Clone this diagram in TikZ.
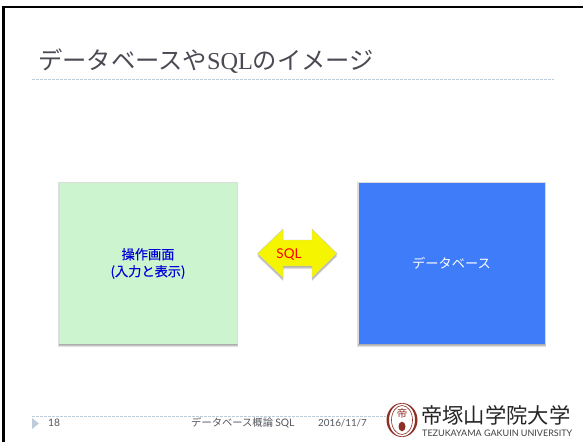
\documentclass[tikz,border=0pt]{standalone}
\usepackage{fontspec}
\setmainfont{Lato}
\newfontfamily\jpfont{Noto Sans CJK JP}
\newfontfamily\jpsemi[FakeBold=0.35]{Noto Sans CJK JP}
\newfontfamily\serifsql{Liberation Serif}
\newfontfamily\latinfoot{Lato}
\definecolor{titlegrey}{HTML}{4A4A54}
\definecolor{rulegrey}{HTML}{BCCCDA}
\definecolor{footgrey}{HTML}{55555F}
\definecolor{boxgreen}{HTML}{CCF4CF}
\definecolor{boxblue}{HTML}{3F7CFA}
\definecolor{arrowyellow}{HTML}{F5F500}
\definecolor{logored}{HTML}{8E3026}
\tikzset{
  x=1pt,y=-1pt,
  panelbox/.style={draw=none,minimum width=#1,minimum height=161pt,inner sep=0pt,anchor=north west},
  softshade/.style={fill=black,opacity=0.12,draw=none},
  haloshade/.style={fill=black,opacity=0.07,draw=none},
  dashrule/.style={draw=rulegrey,line width=0.8pt,dash pattern=on 2.5pt off 1.5pt},
  boxtext/.style={font=\jpfont\fontsize{13.2pt}{16.5pt}\selectfont,align=center,inner sep=0pt},
  foottext/.style={font=\jpfont\fontsize{10.3pt}{12pt}\selectfont,text=footgrey,inner sep=0pt,anchor=base west},
}
\begin{document}
\begin{tikzpicture}
\useasboundingbox (0,0) rectangle (583,442);
\fill[white] (0,0) rectangle (583,442);
% slide frame
\draw[black,line width=2.2pt] (3.5,442) -- (3.5,7) -- (583,7);
% title
\node[anchor=base west,inner sep=0pt,text=titlegrey] (title) at (38,69.5)
  {\fontsize{24.3pt}{28pt}\selectfont\jpfont データベースや\serifsql SQL\jpfont のイメージ};
\coordinate (ruleL) at (32,79.5);
\coordinate (ruleR) at (554,79.5);
\draw[dashrule] (ruleL) -- (ruleR);
% shadows
\foreach \d in {0.6,1.4}{
  \fill[haloshade] (59-\d,183-\d) rectangle (237+\d,344);
  \fill[haloshade] (358-\d,183-\d) rectangle (545+\d,344);
}
\foreach \d in {1,2,3}{
  \fill[softshade] (59.5-\d*0.4,344) rectangle (237+\d*0.4,344+\d);
  \fill[softshade] (358.5-\d*0.4,344) rectangle (545+\d*0.4,344+\d);
}
% boxes
\node[panelbox=177.5pt,fill=boxgreen] (screen) at (59.5,183) {};
\node[panelbox=186.5pt,fill=boxblue] (db) at (358.5,183) {};
\node[boxtext,text=blue!85!black,font=\jpsemi\fontsize{13.2pt}{17pt}\selectfont] (screenlabel) at (148,263.5) {操作画面\\(入力と表示)};
\node[boxtext,text=white] (dblabel) at (451.5,263) {データベース};
% double arrow
\foreach \d in {1,2,3}{
  \fill[softshade,shift={(0,\d)}] (257.5,253.5) -- (283,229) -- (283,240) -- (312,240) -- (312,229) -- (337,253.5) -- (312,278) -- (312,266) -- (283,266) -- (283,278) -- cycle;
}
\fill[arrowyellow,draw=black!20,line width=0.4pt] (257.5,253.5) -- (283,229) -- (283,240) -- (312,240) -- (312,229) -- (337,253.5) -- (312,278) -- (312,266) -- (283,266) -- (283,278) -- cycle;
\node[inner sep=0pt,text=red,font=\fontsize{13.5pt}{15pt}\selectfont] (sqllabel) at (289,254.5) {SQL};
% footer
\coordinate (footL) at (32,416.5);
\coordinate (footR) at (392,416.5);
\draw[dashrule] (footL) -- (footR);
\fill[rulegrey] (32,418) -- (39,423.5) -- (32,429) -- cycle;
\node[foottext] (pagenum) at (48,426.5) {\latinfoot 18};
\node[foottext] (foot) at (191,426.5) {データベース概論 \latinfoot SQL};
\node[foottext,font=\latinfoot\fontsize{9.8pt}{12pt}\selectfont] (date) at (318,426.5) {2016/11/7};
% logo
\fill[white] (386,402) rectangle (421,441);
\fill[logored,even odd rule] (402,420) ellipse (15.5 and 17) (402,420) ellipse (13 and 16.5);
\draw[logored,line width=0.6pt] (402,420) ellipse (10.5 and 14.5);
\node[inner sep=0pt,text=logored,font=\jpfont\fontsize{10.5pt}{11pt}\selectfont] (seal) at (402,413) {帝};
\fill[logored] (402,426.5) ellipse (3.5 and 4.8);
\node[inner sep=0pt,anchor=base west,text=black!85,font=\jpfont\fontsize{21.3pt}{24pt}\selectfont] (univ) at (421,423.5) {帝塚山学院大学};
\node[inner sep=0pt,anchor=base west,text=black!75,font=\latinfoot\fontsize{9pt}{10pt}\selectfont] (univen) at (422,436) {TEZUKAYAMA GAKUIN UNIVERSITY};
\end{tikzpicture}
\end{document}
